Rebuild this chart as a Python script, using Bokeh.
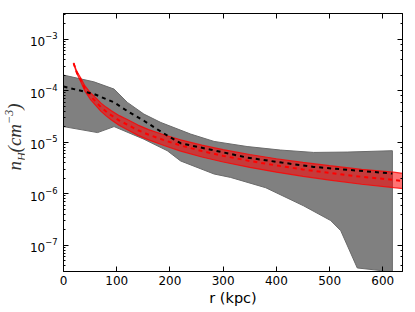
from bokeh.plotting import figure
from bokeh.layouts import row
from bokeh.models import Range1d, LinearAxis, LogAxis, Div, CustomJSTickFormatter, FixedTicker, LogTicker
from bokeh.embed import file_html
from bokeh.resources import INLINE

# ---- data ----
r_gray_hi = [0, 57, 95, 120, 151, 183, 239, 283, 345, 408, 470, 533, 618]
n_gray_hi = [2.0e-4, 1.48e-4, 1.07e-4, 5.9e-5, 3.5e-5, 2.4e-5, 1.43e-5, 1.03e-5, 8.2e-6, 7.0e-6, 6.3e-6, 6.4e-6, 6.8e-6]
r_gray_lo = [0, 64, 95, 151, 195, 220, 283, 314, 380, 451, 502, 521, 552, 596, 618]
n_gray_lo = [2.0e-5, 1.53e-5, 2.0e-5, 1.14e-5, 6.8e-6, 4.3e-6, 2.4e-6, 2.06e-6, 1.3e-6, 5.8e-7, 3.0e-7, 1.9e-7, 3.6e-8, 3.2e-8, 2.9e-8]
r_mean = [0, 57, 95, 120, 151, 185, 220, 280, 345, 410, 470, 540, 618]
n_mean = [1.2e-4, 8.6e-5, 5.9e-5, 4.0e-5, 2.6e-5, 1.55e-5, 9.5e-6, 7.0e-6, 5.0e-6, 4.0e-6, 3.3e-6, 2.86e-6, 2.45e-6]
r_fit = [19, 25, 32, 40, 50, 60, 70, 80, 90, 105, 120, 140, 160, 190, 220, 260, 300, 350, 400, 450, 500, 560, 620, 645]
n_fit = [3.4e-4, 2.25e-4, 1.65e-4, 1.11e-4, 7.96e-5, 6.2e-5, 4.8e-5, 3.93e-5, 3.3e-5, 2.62e-5, 2.18e-5, 1.7e-5,
         1.39e-5, 1.08e-5, 8.6e-6, 6.7e-6, 5.4e-6, 4.3e-6, 3.52e-6, 2.95e-6, 2.52e-6, 2.12e-6, 1.85e-6, 1.72e-6]
n_fit_hi = [3.48e-4, 2.36e-4, 1.79e-4, 1.245e-4, 9.24e-5, 7.37e-5, 5.77e-5, 4.78e-5, 4.06e-5, 3.26e-5, 2.74e-5, 2.14e-5,
            1.75e-5, 1.376e-5, 1.108e-5, 8.73e-6, 7.12e-6, 5.74e-6, 4.75e-6, 4.03e-6, 3.48e-6, 2.96e-6, 2.61e-6, 2.43e-6]
n_fit_lo = [3.32e-4, 2.15e-4, 1.52e-4, 9.89e-5, 6.86e-5, 5.21e-5, 3.99e-5, 3.23e-5, 2.68e-5, 2.10e-5, 1.73e-5, 1.35e-5,
            1.104e-5, 8.48e-6, 6.68e-6, 5.14e-6, 4.10e-6, 3.22e-6, 2.61e-6, 2.16e-6, 1.83e-6, 1.52e-6, 1.31e-6, 1.22e-6]
x_ticks = [0, 100, 200, 300, 400, 500, 600]

FONT = "DejaVu Sans"
DIV_W = 24

p = figure(width=415 - DIV_W, height=312, output_backend="svg", toolbar_location=None,
           x_range=Range1d(0, 637), y_range=Range1d(3.07e-8, 3.14e-3),
           y_axis_type="log", min_border_left=63 - DIV_W, min_border_right=13,
           min_border_top=13, min_border_bottom=41, margin=(0, 0, 0, 0))
p.background_fill_color = "white"
p.border_fill_color = "white"
p.outline_line_color = "black"
p.grid.visible = False

# gray envelope
p.patch(x=r_gray_hi + r_gray_lo[::-1], y=n_gray_hi + n_gray_lo[::-1],
        fill_color="#808080", line_color="#6a6a6a", line_width=1)
# red fit band
p.varea(x=r_fit, y1=n_fit_lo, y2=n_fit_hi, fill_color="red", fill_alpha=0.55)
p.line(r_fit, n_fit_hi, line_color="red", line_alpha=0.8, line_width=1.2)
p.line(r_fit, n_fit_lo, line_color="red", line_alpha=0.8, line_width=1.2)
p.line(r_fit, n_fit, line_color="red", line_width=2, line_dash="4 4")
# mean profile
p.line(r_mean, n_mean, line_color="black", line_width=2, line_dash="4 4")

def style(ax, labels=True):
    ax.major_tick_in = 5
    ax.major_tick_out = 0
    ax.minor_tick_in = 2
    ax.minor_tick_out = 0
    ax.axis_line_color = "black"
    ax.major_tick_line_color = "black"
    ax.minor_tick_line_color = "black"
    ax.major_label_text_font = FONT
    ax.major_label_text_font_size = "12px"
    ax.major_label_text_color = "black"
    if not labels:
        ax.formatter = CustomJSTickFormatter(code="return ''")
        ax.major_label_standoff = 0

xa = p.xaxis[0]
xa.ticker = FixedTicker(ticks=x_ticks)
style(xa)
xa.major_label_standoff = 4
xa.axis_label = "r (kpc)"
xa.axis_label_text_font = FONT
xa.axis_label_text_font_size = "14.5px"
xa.axis_label_text_font_style = "normal"
xa.axis_label_text_color = "black"
xa.axis_label_standoff = 2
ya = p.yaxis[0]
style(ya)
ya.major_label_standoff = 6

top = LinearAxis(ticker=FixedTicker(ticks=x_ticks))
style(top, labels=False)
p.add_layout(top, "above")
right = LogAxis(ticker=LogTicker())
style(right, labels=False)
p.add_layout(right, "right")

# y-axis title n_H(cm^-3) as rotated HTML text
ylabel_html = (
    '<div style="box-sizing:border-box;width:%dpx;height:312px;padding-bottom:38px;padding-left:8px;'
    'display:flex;align-items:center;justify-content:center;">'
    '<span style="display:inline-block;transform:rotate(-90deg);white-space:nowrap;'
    "font-family:'Liberation Serif';font-style:italic;font-size:19px;line-height:1;color:#333;\">"
    'n<sub style="font-size:12px;">H</sub>(cm<sup style="font-size:12px;">\u22123</sup>)</span></div>'
) % DIV_W
div = Div(text=ylabel_html, width=DIV_W, height=312, margin=(0, 0, 0, 0))

layout = row(div, p, spacing=0)
open("out.html", "w").write(file_html(layout, INLINE))
